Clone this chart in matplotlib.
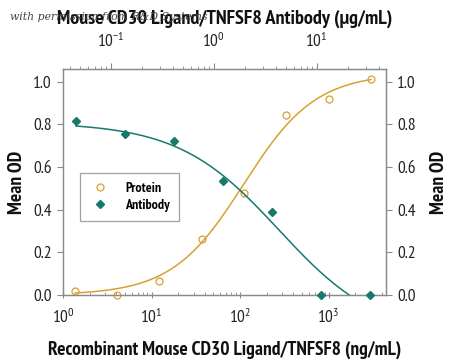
import numpy as np
import matplotlib
matplotlib.use("Agg")
import matplotlib.pyplot as plt
from matplotlib import font_manager as fm
from matplotlib.ticker import LogLocator, NullFormatter

names = {f.name for f in fm.fontManager.ttflist}
FAM = next((n for n in ['PT Sans Narrow', 'Fira Sans Condensed', 'Roboto Condensed']
            if n in names), 'DejaVu Sans')
plt.rcParams['font.family'] = [FAM, 'DejaVu Sans']
plt.rcParams['mathtext.fontset'] = 'custom'
plt.rcParams['mathtext.rm'] = FAM
plt.rcParams['mathtext.it'] = FAM
plt.rcParams['mathtext.bf'] = FAM

# Data
protein_x = [1.37, 4.1, 12.3, 37, 111, 333, 1000, 3000]          # ng/mL
protein_y = [0.020, 0.0, 0.067, 0.263, 0.477, 0.844, 0.917, 1.011]
antibody_x = [0.046, 0.137, 0.41, 1.23, 3.7, 11.1, 33.3]         # ug/mL
antibody_y = [0.817, 0.755, 0.723, 0.533, 0.389, 0.0, 0.0]
protein_fit = (0.0, 1.04, 110.0, 1.07)   # bottom, top, EC50, hill
antibody_fit = (-0.2, 0.81, 4.3, 0.89)   # bottom, top, IC50, hill


def rising(x, p):
    b, t, c, h = p
    return b + (t - b) / (1 + (c / x) ** h)


def falling(x, p):
    b, t, c, h = p
    return b + (t - b) / (1 + (x / c) ** h)


c_prot = '#D9A032'
c_ab = '#18786C'
gray = '#8a8a8a'

fig = plt.figure(figsize=(4.5, 3.61), dpi=100)
fig.text(10/450, 1-17/361, 'with permission from R&D Systems', fontsize=7.8,
         family='DejaVu Serif', style='italic', color='#444444', va='center',
         zorder=0)

ax = fig.add_axes([63/450, 1-295/361, (386-63)/450, (295-69)/361])
ax.set_xscale('log')
ax.set_xlim(1, 4450)
ax.set_ylim(0, 1.06)

xp = np.logspace(np.log10(protein_x[0]), np.log10(protein_x[-1]), 200)
ax.plot(xp, rising(xp, protein_fit), color=c_prot, lw=1.1, zorder=2)
hp, = ax.plot(protein_x, protein_y, 'o', mfc='none', mec=c_prot, ms=5, mew=0.9,
              clip_on=False, zorder=3, label='Protein')

ax2 = ax.twiny()
ax2.set_xscale('log')
ax2.set_xlim(0.0344, 47.1)
xa = np.logspace(np.log10(antibody_x[0]), np.log10(antibody_x[-1]), 300)
ya = falling(xa, antibody_fit)
ax2.plot(xa, ya, color=c_ab, lw=1.1, zorder=2)
ha, = ax2.plot(antibody_x, antibody_y, 'D', color=c_ab, ms=4.5, clip_on=False,
               zorder=3, label='Antibody')

for a in (ax, ax2):
    for s in a.spines.values():
        s.set_color(gray)
        s.set_linewidth(0.9)

tfs = 12.5
ax.set_yticks([0, 0.2, 0.4, 0.6, 0.8, 1.0])
ax.set_yticklabels(['0.0', '0.2', '0.4', '0.6', '0.8', '1.0'])
ax.tick_params(axis='y', which='both', direction='out', length=4, color=gray,
               left=True, right=True, labelleft=True, labelright=True,
               labelsize=tfs, pad=4, labelcolor='#222222')
ax.xaxis.set_major_locator(LogLocator(base=10, numticks=10))
ax.xaxis.set_minor_locator(LogLocator(base=10, subs=np.arange(2, 10), numticks=10))
ax.xaxis.set_minor_formatter(NullFormatter())
ax.tick_params(axis='x', which='major', direction='inout', length=5, color=gray,
               labelsize=tfs, pad=7, labelcolor='#222222')
ax.tick_params(axis='x', which='minor', direction='in', length=2.5, color=gray)
ax2.xaxis.set_major_locator(LogLocator(base=10, numticks=10))
ax2.xaxis.set_minor_locator(LogLocator(base=10, subs=np.arange(2, 10), numticks=10))
ax2.xaxis.set_minor_formatter(NullFormatter())
ax2.tick_params(axis='x', which='major', direction='out', length=4, color=gray,
                labelsize=tfs, pad=9, labelcolor='#222222')
ax2.tick_params(axis='x', which='minor', direction='out', length=2.5, color=gray)

lab = dict(fontsize=14, fontweight='bold', color='#111111')
ax.set_xlabel('Recombinant Mouse CD30 Ligand/TNFSF8 (ng/mL)', labelpad=10, **lab)
ax2.set_xlabel('Mouse CD30 Ligand/TNFSF8 Antibody (μg/mL)', labelpad=6,
               fontsize=14.5, fontweight='bold', color='#111111')
ax.set_ylabel('Mean OD', labelpad=5, **lab)
sec = ax.secondary_yaxis('right')
sec.set_yticks([])
sec.spines['right'].set_visible(False)
sec.set_ylabel('Mean OD', labelpad=32, **lab)

leg = ax2.legend(handles=[hp, ha], loc='upper left',
                 bbox_to_anchor=((80-63)/323, (295-173)/226),
                 frameon=True, fancybox=False, edgecolor=gray,
                 prop={'weight': 'bold', 'size': 10}, handletextpad=1.0,
                 borderpad=0.65, labelspacing=0.3, handlelength=1.6,
                 borderaxespad=0)
leg.get_frame().set_linewidth(0.9)

fig.savefig('out.png', dpi=100)
